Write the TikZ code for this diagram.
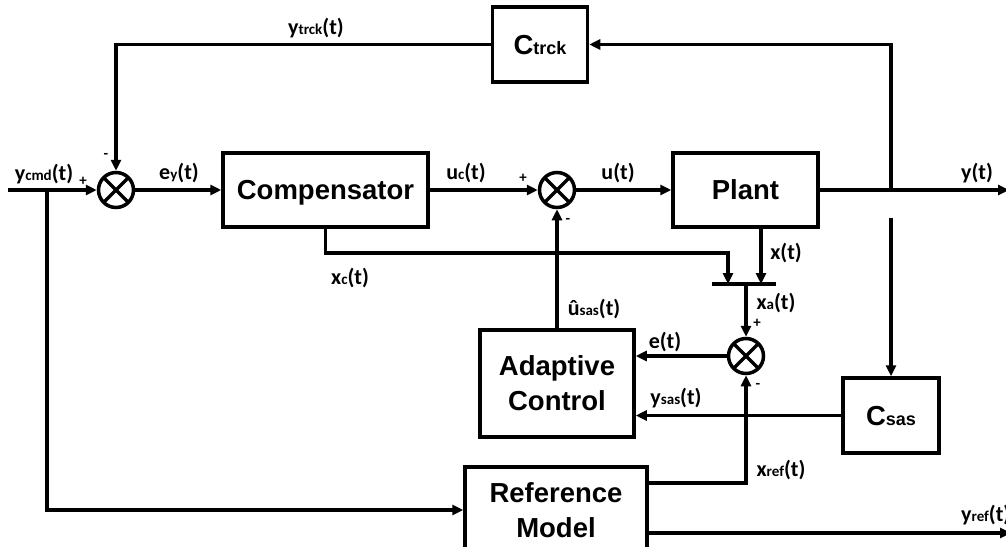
\documentclass[tikz,border=0pt]{standalone}
\usepackage{fontspec}
\setmainfont{Liberation Sans}
\newfontfamily\lblfont{Carlito}
\usepackage{tikz}
\usetikzlibrary{arrows.meta}
\newcommand{\sigsub}[2]{#1{\fontsize{15}{15}\selectfont #2}(t)}
\newcommand{\blksub}[2]{#1{\fontsize{18}{18}\selectfont #2}}

\begin{document}
\begin{tikzpicture}[x=1pt, y=-1pt,
    blk/.style={draw, line width=3.5pt, inner sep=0pt, align=center, text depth=0pt, font=\fontsize{27.5}{35}\selectfont\bfseries},
    sumjn/.style={circle, draw, line width=3.5pt, minimum size=35pt, inner sep=0pt,
        path picture={\draw[line width=3.5pt] (path picture bounding box.north west) -- (path picture bounding box.south east)
            (path picture bounding box.north east) -- (path picture bounding box.south west);}},
    sig/.style={line width=3.5pt, -{Triangle[length=11pt, width=10pt]}},
    lbl/.style={inner sep=0pt, font=\fontsize{22}{22}\selectfont\lblfont\bfseries},
    sgn/.style={inner sep=0pt, font=\fontsize{15}{15}\selectfont\lblfont\bfseries}]
    \useasboundingbox (0,0) rectangle (1006,546);

    % Blocks
    \node[blk, minimum width=95pt, minimum height=75pt] (ctrck) at (540,44.5) {\blksub{C}{trck}};
    \node[blk, minimum width=205pt, minimum height=74pt] (comp) at (325.5,190) {Compensator};
    \node[blk, minimum width=145pt, minimum height=74pt] (plant) at (745.5,190) {Plant};
    \node[blk, minimum width=154pt, minimum height=107pt] (adapt) at (557,383.5) {Adaptive\\Control};
    \node[blk, minimum width=96pt, minimum height=75pt] (csas) at (891,415.5) {\blksub{C}{sas}};
    \node[blk, minimum width=182pt, minimum height=86pt] (refm) at (556,510) {Reference\\Model};

    % Summing junctions
    \node[sumjn] (sum1) at (116,190) {};
    \node[sumjn] (sum2) at (557,190) {};
    \node[sumjn] (sum3) at (746,356) {};

    % Branch points and the bar
    \coordinate (ycmdin) at (8,190);
    \coordinate (br1) at (47,190);
    \coordinate (br2) at (891,190);
    \coordinate (br3) at (891,218);
    \coordinate (yout) at (1009,190);
    \coordinate (xcturn) at (728,253);
    \coordinate (xcin) at (728,284);
    \coordinate (xin) at (761,284);
    \coordinate (barl) at (712,284);
    \coordinate (barr) at (776,284);
    \coordinate (barm) at (746,284);
    \coordinate (xref) at (746,483);
    \coordinate (yrefout) at (1011,533);

    % Forward path
    \draw[sig] (ycmdin) -- (sum1.west);
    \draw[sig] (sum1.east) -- (comp.west);
    \draw[sig] (comp.east) -- (sum2.west);
    \draw[sig] (sum2.east) -- (plant.west);
    \draw[sig] (plant.east) -- (yout);

    % Tracking loop
    \draw[sig] (br2) |- (ctrck.east);
    \draw[sig] (ctrck.west) -| (sum1.north);

    % States into the bar
    \draw[line width=3.5pt] (barl) -- (barr);
    \draw[sig] (comp.south) |- (xcturn) -- (xcin);
    \draw[sig] (plant.south -| xin) -- (xin);
    \draw[sig] (barm) -- (sum3.north);

    % Adaptive loop
    \draw[sig] (sum3.west) -- (sum3.west -| adapt.east);
    \draw[sig] (br3) -- (csas.north);
    \draw[sig] (csas.west) -- (csas.west -| adapt.east);
    \draw[sig] (adapt.north) -- (sum2.south);

    % Reference model
    \draw[sig] (br1) |- (refm.west);
    \draw[sig] (refm.east |- xref) -- (xref) -- (sum3.south);
    \draw[sig] (refm.east |- yrefout) -- (yrefout);

    % Labels
    \node[lbl] (lytrck) at (316,28) {\sigsub{y}{trck}};
    \node[lbl] (lycmd) at (44,174) {\sigsub{y}{cmd}};
    \node[sgn] (p1) at (83,181) {+};
    \node[sgn] (m1) at (106,156) {-};
    \node[lbl] (ley) at (179,173) {\sigsub{e}{y}};
    \node[lbl] (luc) at (466,173) {\sigsub{u}{c}};
    \node[sgn] (p2) at (523,178) {+};
    \node[sgn] (m2) at (568,221) {-};
    \node[lbl] (lu) at (618,173) {u(t)};
    \node[lbl] (ly) at (977,173) {y(t)};
    \node[lbl] (lx) at (786,253) {x(t)};
    \node[lbl] (lxc) at (350,278) {\sigsub{x}{c}};
    \node[lbl] (lusas) at (594,309) {\sigsub{û}{sas}};
    \node[lbl] (lxa) at (776,303) {\sigsub{x}{a}};
    \node[sgn] (p3) at (757,323) {+};
    \node[sgn] (m3) at (758,386) {-};
    \node[lbl] (le) at (665,342) {e(t)};
    \node[lbl] (lysas) at (676,398) {\sigsub{y}{sas}};
    \node[lbl] (lxref) at (781,470) {\sigsub{x}{ref}};
    \node[lbl, anchor=west] (lyref) at (961,515) {\sigsub{y}{ref}};
\end{tikzpicture}
\end{document}
